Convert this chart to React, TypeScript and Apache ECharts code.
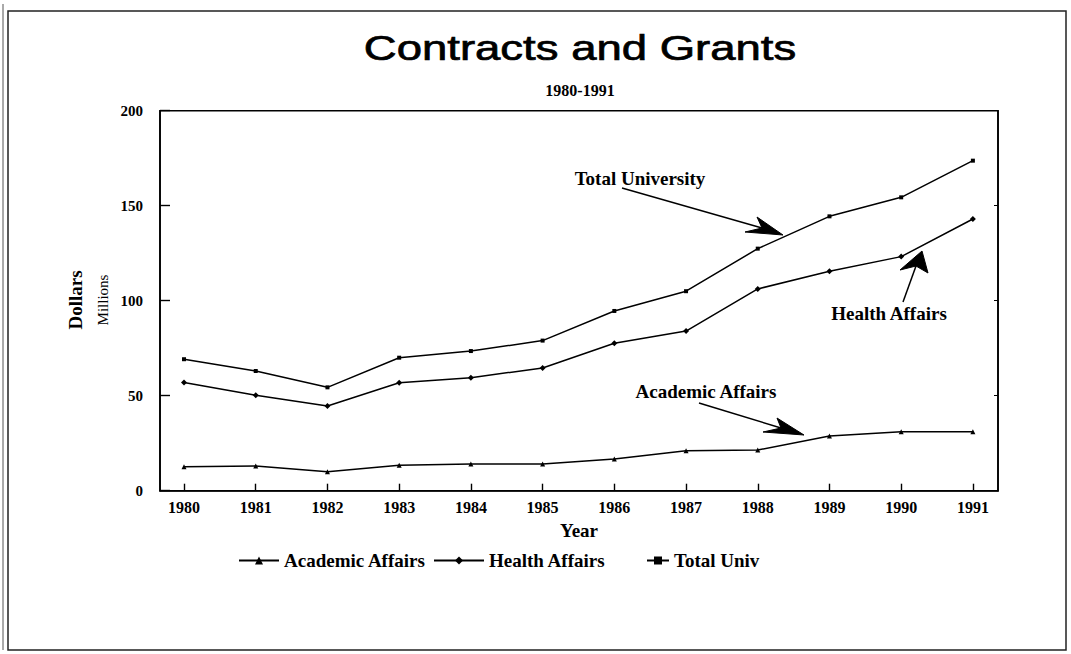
import React, { useEffect, useRef } from "react";
import * as echarts from "echarts";

const years = [1980, 1981, 1982, 1983, 1984, 1985, 1986, 1987, 1988, 1989, 1990, 1991];
const academicAffairs = [12.6, 13, 10, 13.4, 14, 14, 16.7, 21, 21.4, 28.8, 31, 31];
const healthAffairs = [57, 50.2, 44.6, 56.8, 59.5, 64.6, 77.6, 84, 106.2, 115.5, 123.2, 143];
const totalUniv = [69.2, 63, 54.4, 70, 73.5, 79, 94.6, 105, 127.4, 144.4, 154.4, 173.7];
const yTicks = [0, 50, 100, 150, 200];

const SERIF = "'Liberation Serif', 'DejaVu Serif', serif";
const SANS = "'Liberation Sans', Arial, sans-serif";

function arrow(line: number[][], head: number[][]) {
  return [
    {
      type: "polyline",
      shape: { points: line },
      style: { stroke: "#000", lineWidth: 1.5, fill: null },
    },
    {
      type: "polygon",
      shape: { points: head },
      style: { fill: "#000", stroke: "#000", lineWidth: 1 },
    },
  ];
}

export default function App() {
  const ref = useRef<HTMLDivElement>(null);
  useEffect(() => {
    if (!ref.current) return;
    const chart = echarts.init(ref.current, null, { renderer: "svg" });
    const pairs = (arr: number[]) => years.map((y, i) => [y, arr[i]]);
    const lineCommon = {
      type: "line",
      lineStyle: { color: "#000", width: 1.5 },
      itemStyle: { color: "#000" },
      symbolSize: 5,
      showSymbol: true,
    };
    const legendText = { fontFamily: SERIF, fontWeight: "bold", fontSize: 19, color: "#000" };
    const legendCommon = { top: 551, padding: 0, itemHeight: 10, textStyle: legendText };
    chart.setOption({
      animation: false,
      backgroundColor: "#fff",
      grid: {
        left: 160,
        right: 73,
        top: 110.7,
        bottom: 163.3,
        show: true,
        borderColor: "#000",
        borderWidth: 1.6,
        containLabel: false,
      },
      xAxis: {
        type: "value",
        min: 1979.665,
        max: 1991.35,
        name: "Year",
        nameLocation: "middle",
        nameGap: 30,
        nameTextStyle: { fontFamily: SERIF, fontWeight: "bold", fontSize: 19, color: "#000" },
        axisLine: { show: true, lineStyle: { color: "#000", width: 1.6 } },
        axisTick: { show: true, inside: true, length: 7, customValues: years, lineStyle: { color: "#000", width: 1.4 } },
        axisLabel: {
          customValues: years,
          formatter: (v: number) => String(v),
          fontFamily: SERIF,
          fontWeight: "bold",
          fontSize: 16,
          color: "#000",
          margin: 9,
        },
        splitLine: { show: false },
      },
      yAxis: [
        {
          type: "value",
          min: 0,
          max: 200,
          interval: 50,
          axisLine: { show: true, lineStyle: { color: "#000", width: 1.6 } },
          axisTick: { show: true, inside: true, length: 10, customValues: yTicks, lineStyle: { color: "#000", width: 1.4 } },
          axisLabel: {
            fontFamily: SERIF,
            fontWeight: "bold",
            fontSize: 15,
            color: "#000",
            margin: 17,
          },
          splitLine: { show: false },
        },
        {
          type: "value",
          position: "right",
          min: 0,
          max: 200,
          interval: 50,
          axisLine: { show: true, lineStyle: { color: "#000", width: 1.6 } },
          axisTick: { show: true, inside: true, length: 4, lineStyle: { color: "#000", width: 1 } },
          axisLabel: { show: false },
          splitLine: { show: false },
        },
      ],
      legend: [
        { ...legendCommon, data: ["Academic Affairs"], left: 238, itemWidth: 40 },
        { ...legendCommon, data: ["Health Affairs"], left: 433, itemWidth: 50 },
        { ...legendCommon, data: ["Total Univ"], left: 646, itemWidth: 22 },
      ],
      series: [
        { ...lineCommon, name: "Academic Affairs", symbol: "triangle", data: pairs(academicAffairs) },
        { ...lineCommon, name: "Health Affairs", symbol: "diamond", symbolSize: 6, data: pairs(healthAffairs) },
        { ...lineCommon, name: "Total Univ", symbol: "rect", symbolSize: 4, data: pairs(totalUniv) },
      ],
      graphic: [
        {
          type: "rect",
          shape: { x: 8, y: 11, width: 1058, height: 639 },
          style: { fill: null, stroke: "#222", lineWidth: 1.5 },
          silent: true,
        },
        {
          type: "line",
          shape: { x1: 3, y1: 4, x2: 3, y2: 650 },
          style: { stroke: "#555", lineWidth: 1 },
          silent: true,
        },
        {
          type: "text",
          x: 580,
          y: 48,
          scaleX: 1.3,
          style: {
            text: "Contracts and Grants",
            fontFamily: SANS,
            fontSize: 35,
            fill: "#000",
            stroke: "#000",
            lineWidth: 0.7,
            align: "center",
            verticalAlign: "middle",
          },
        },
        {
          type: "text",
          x: 580,
          y: 90,
          style: {
            text: "1980-1991",
            fontFamily: SERIF,
            fontWeight: "bold",
            fontSize: 16,
            fill: "#000",
            align: "center",
            verticalAlign: "middle",
          },
        },
        {
          type: "text",
          x: 75,
          y: 300,
          rotation: Math.PI / 2,
          style: {
            text: "Dollars",
            fontFamily: SERIF,
            fontWeight: "bold",
            fontSize: 19,
            fill: "#000",
            align: "center",
            verticalAlign: "middle",
          },
        },
        {
          type: "text",
          x: 103,
          y: 300,
          rotation: Math.PI / 2,
          style: {
            text: "Millions",
            fontFamily: SERIF,
            fontSize: 15,
            fill: "#000",
            align: "center",
            verticalAlign: "middle",
          },
        },
        {
          type: "text",
          x: 640,
          y: 178,
          style: { text: "Total University", fontFamily: SERIF, fontWeight: "bold", fontSize: 19, fill: "#000", align: "center", verticalAlign: "middle" },
        },
        {
          type: "text",
          x: 889,
          y: 313,
          style: { text: "Health Affairs", fontFamily: SERIF, fontWeight: "bold", fontSize: 19, fill: "#000", align: "center", verticalAlign: "middle" },
        },
        {
          type: "text",
          x: 706,
          y: 391,
          style: { text: "Academic Affairs", fontFamily: SERIF, fontWeight: "bold", fontSize: 19, fill: "#000", align: "center", verticalAlign: "middle" },
        },
        ...arrow([[622, 188], [762, 228]], [[783, 235], [757, 217], [762, 228], [745, 232]]),
        ...arrow([[903, 302], [916, 266]], [[922, 251], [928, 273], [916, 266], [900, 270]]),
        ...arrow([[699, 403], [781, 428]], [[804, 435], [777, 418], [781, 428], [763, 432]]),
      ],
    });
    return () => chart.dispose();
  }, []);
  return <div ref={ref} style={{ position: "absolute", left: 0, top: 0, width: 1071, height: 654 }} />;
}
